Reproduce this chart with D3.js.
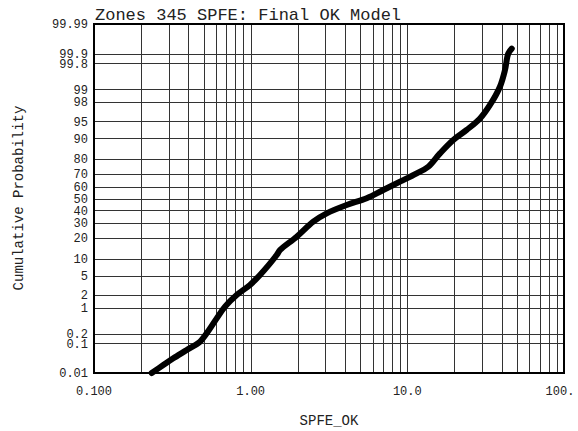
<!DOCTYPE html>
<html><head><meta charset="utf-8">
<script src="https://cdn.jsdelivr.net/npm/d3@7"></script>
<style>body{margin:0;background:#fff}svg{display:block}text{font-family:"Liberation Mono","DejaVu Sans Mono",monospace;fill:#222}</style>
</head><body><svg id="c" width="578" height="431"></svg>
<script>
// Data
const xValues = [0.2335,0.2769,0.3208,0.3906,0.475,0.524,0.607,0.686,0.814,0.990,1.147,1.466,1.539,1.967,2.51,3.057,4.10,5.50,7.02,8.98,11.47,13.6,16.16,19.65,23.92,29.1,33.7,39.0,42.0,44.1,46.4];
const pValues = [0.01,0.0193,0.033,0.062,0.114,0.203,0.53,1.06,1.98,3.27,5.16,11.4,13.6,20.8,31.1,37.6,44.5,50.2,57.2,64.0,70.4,75.1,83.2,89.4,92.8,95.6,97.7,99.14,99.69,99.90,99.93];
const yTickValues = [0.01,0.1,0.2,1,2,5,10,20,30,40,50,60,70,80,90,95,98,99,99.8,99.9,99.99];
const yTickLabels = ["0.01","0.1","0.2","1","2","5","10","20","30","40","50","60","70","80","90","95","98","99","99.8","99.9","99.99"];
const xTickValues = [0.1,1,10,100];
const xTickLabels = ["0.100","1.00","10.0","100."];
const titleText = "Zones 345 SPFE: Final OK Model";
const xLabel = "SPFE_OK";
const yLabel = "Cumulative Probability";

// inverse normal CDF (Acklam)
function probit(p){
  const a=[-3.969683028665376e+01,2.209460984245205e+02,-2.759285104469687e+02,1.383577518672690e+02,-3.066479806614716e+01,2.506628277459239e+00];
  const b=[-5.447609879822406e+01,1.615858368580409e+02,-1.556989798598866e+02,6.680131188771972e+01,-1.328068155288572e+01];
  const c=[-7.784894002430293e-03,-3.223964580411365e-01,-2.400758277161838e+00,-2.549732539343734e+00,4.374664141464968e+00,2.938163982698783e+00];
  const d=[7.784695709041462e-03,3.224671290700398e-01,2.445134137142996e+00,3.754408661907416e+00];
  const pl=0.02425;let q,r;
  if(p<pl){q=Math.sqrt(-2*Math.log(p));return (((((c[0]*q+c[1])*q+c[2])*q+c[3])*q+c[4])*q+c[5])/((((d[0]*q+d[1])*q+d[2])*q+d[3])*q+1);}
  if(p<=1-pl){q=p-0.5;r=q*q;return (((((a[0]*r+a[1])*r+a[2])*r+a[3])*r+a[4])*r+a[5])*q/(((((b[0]*r+b[1])*r+b[2])*r+b[3])*r+b[4])*r+1);}
  q=Math.sqrt(-2*Math.log(1-p));return -(((((c[0]*q+c[1])*q+c[2])*q+c[3])*q+c[4])*q+c[5])/((((d[0]*q+d[1])*q+d[2])*q+d[3])*q+1);
}

const L=94,R=564,T=24,B=373;
const svg=d3.select("#c");
const x=d3.scaleLog().domain([0.1,100]).range([L,R]);
const zScale=d3.scaleLinear().domain([probit(0.0001),probit(0.9999)]).range([B,T]);
const y=p=>zScale(probit(p/100));

// vertical grid lines
const xGrid=[];
for(let e=-1;e<2;e++)for(let m=1;m<=9;m++){const v=m*Math.pow(10,e);if(v>0.1&&v<100)xGrid.push(v);}
svg.append("g").selectAll("line").data(xGrid).join("line")
  .attr("x1",d=>Math.round(x(d))+0.5).attr("x2",d=>Math.round(x(d))+0.5)
  .attr("y1",T).attr("y2",B).attr("stroke","#333").attr("stroke-width",1);
// horizontal grid lines
svg.append("g").selectAll("line").data(yTickValues.filter(v=>v>0.01&&v<99.99)).join("line")
  .attr("y1",d=>Math.round(y(d))+0.5).attr("y2",d=>Math.round(y(d))+0.5)
  .attr("x1",L).attr("x2",R).attr("stroke","#333").attr("stroke-width",1);

// frame
svg.append("rect").attr("x",L).attr("y",T).attr("width",R-L).attr("height",B-T)
  .attr("fill","none").attr("stroke","#000").attr("stroke-width",2);

// y tick labels
svg.append("g").selectAll("text").data(yTickValues).join("text")
  .attr("x",88).attr("y",d=>y(d)).attr("dy","0.35em").attr("text-anchor","end")
  .attr("font-size",12).text((d,i)=>yTickLabels[i]);
// x tick labels
svg.append("g").selectAll("text").data(xTickValues).join("text")
  .attr("x",d=>Math.min(x(d),560)).attr("y",395).attr("text-anchor","middle")
  .attr("font-size",12).text((d,i)=>xTickLabels[i]);

// title & axis labels
svg.append("text").attr("x",95).attr("y",20).attr("font-size",17).text(titleText);
svg.append("text").attr("x",329).attr("y",425).attr("text-anchor","middle").attr("font-size",14).text(xLabel);
svg.append("text").attr("transform","translate(23,198) rotate(-90)").attr("text-anchor","middle").attr("font-size",14).text(yLabel);

// curve
const pts=xValues.map((v,i)=>[v,pValues[i]]);
svg.append("path").datum(pts)
  .attr("d",d3.line().x(d=>x(d[0])).y(d=>y(d[1])).curve(d3.curveCatmullRom))
  .attr("fill","none").attr("stroke","#000").attr("stroke-width",6)
  .attr("stroke-linecap","round").attr("stroke-linejoin","round");
</script></body></html>
